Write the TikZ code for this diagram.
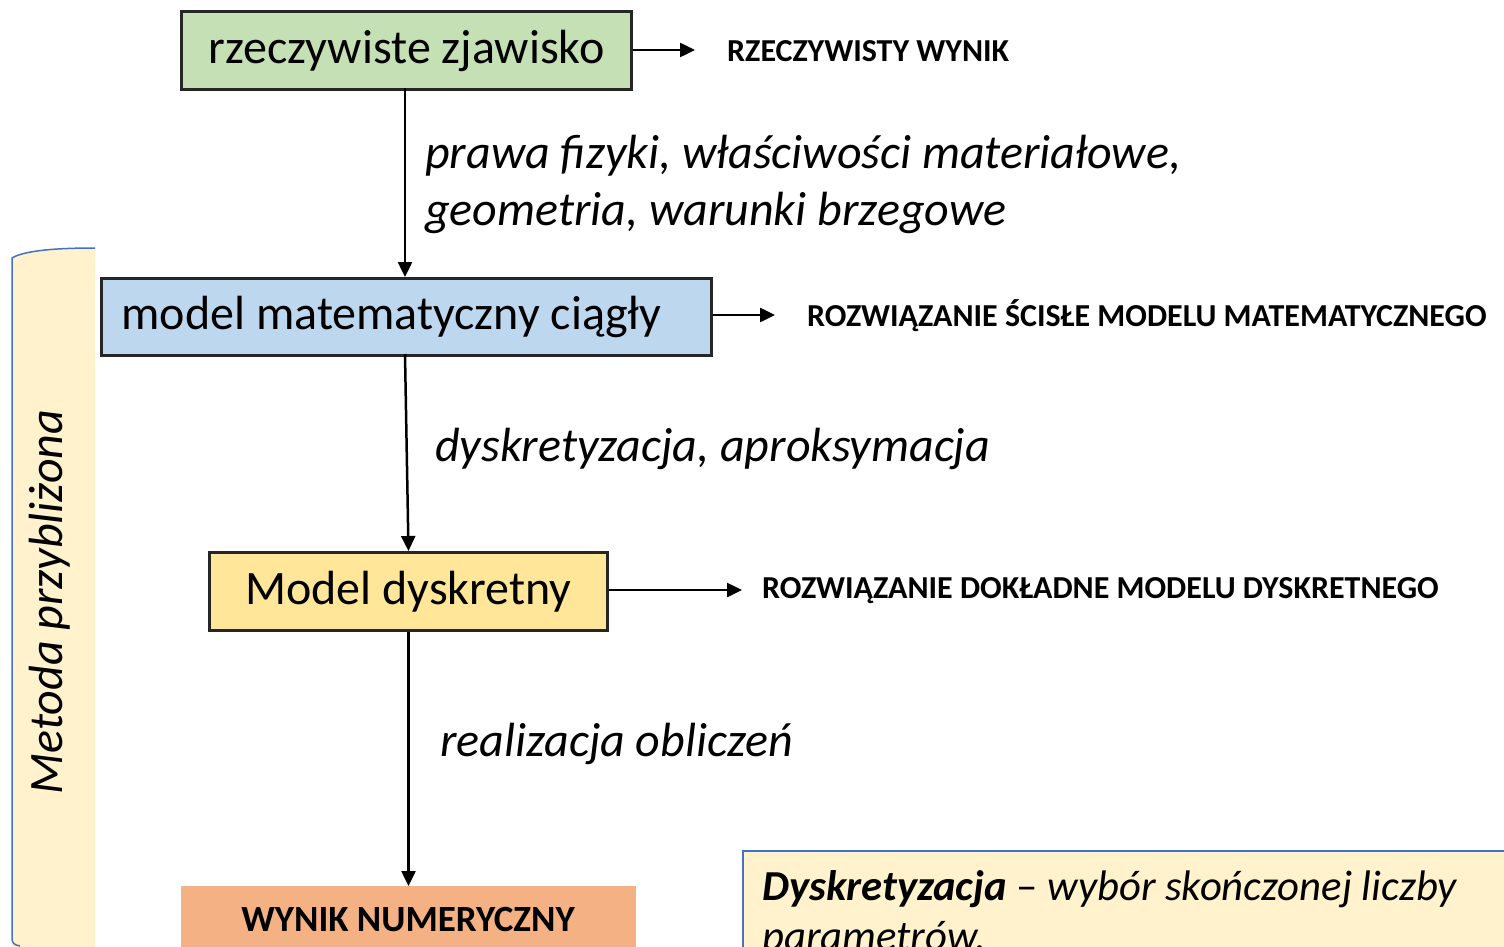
\documentclass[tikz,border=0pt]{standalone}
\usepackage{fontspec}
\setmainfont{Carlito}
\usetikzlibrary{arrows.meta}
\definecolor{gfill}{HTML}{C5E0B4}
\definecolor{bfill}{HTML}{BDD7EE}
\definecolor{yfill}{HTML}{FFE699}
\definecolor{ofill}{HTML}{F4B183}
\definecolor{cream}{HTML}{FFF2CC}
\definecolor{edge}{HTML}{262626}
\definecolor{blueline}{HTML}{4472C4}
\tikzset{
  box/.style={draw=edge, line width=3pt, inner sep=0pt, anchor=north west, font=\fontsize{48}{56}\selectfont},
  arr/.style={line width=2.5pt, -{Triangle[length=15pt,width=14pt]}},
  res/.style={anchor=west, inner sep=0pt, font=\fontsize{32}{38}\selectfont\bfseries},
  lbl/.style={anchor=west, inner sep=0pt, align=flush left, font=\fontsize{48}{57}\selectfont\itshape},
}
\begin{document}
\begin{tikzpicture}[x=1pt,y=-1pt]
\useasboundingbox (0,0) rectangle (1504,947);
\clip (0,0) rectangle (1504,947);
% left bracket
\fill[cream] (12,258) .. controls (25,250) and (60,248) .. (95,248) -- (95,960) -- (12,960) -- cycle;
\draw[blueline, line width=1.5pt] (95,248) .. controls (60,248) and (25,250) .. (12,258) -- (12,938) .. controls (12,943) and (14,945) .. (20,946);
\node[rotate=90, inner sep=0pt, font=\fontsize{48}{56}\selectfont\itshape] (mp) at (50,602) {Metoda przybliżona};
% boxes
\node[box, fill=gfill, minimum width=450pt, minimum height=78pt] (g) at (180,10) {\raisebox{-3pt}{rzeczywiste zjawisko}};
\node[box, fill=bfill, minimum width=610pt, minimum height=77pt, text width=570pt, inner xsep=20pt, align=flush left] (b) at (100,277) {\raisebox{-2pt}{model matematyczny ciągły}};
\node[box, fill=yfill, minimum width=398pt, minimum height=78pt] (y) at (208,551) {\raisebox{-2pt}{Model dyskretny}};
\node[anchor=north west, fill=ofill, minimum width=455pt, minimum height=90pt, inner sep=0pt] (o) at (181,886) {};
\node[inner sep=0pt, font=\fontsize{37}{42}\selectfont\bfseries] (ot) at (408,919) {WYNIK NUMERYCZNY};
% result labels
\node[res] (r1) at (727,51) {RZECZYWISTY WYNIK};
\node[res] (r2) at (807,316) {ROZWIĄZANIE ŚCISŁE MODELU MATEMATYCZNEGO};
\node[res] (r3) at (762,591) {ROZWIĄZANIE DOKŁADNE MODELU DYSKRETNEGO};
\coordinate (e1) at (695,50);
\coordinate (e2) at (775,315);
\coordinate (e3) at (742,590);
\draw[arr] (g.east |- e1) -- (e1);
\draw[arr] (b.east |- e2) -- (e2);
\draw[arr] (y.east |- e3) -- (e3);
% vertical arrows
\draw[arr] (405,88) -- (b.north -| 405,0);
\draw[arr] (405,354) -- (y.north);
\draw[arr] (y.south) -- (o.north -| y.south);
% step labels
\node[lbl] (l1) at (425,184) {prawa fizyki, właściwości materiałowe,\\geometria, warunki brzegowe};
\node[lbl] (l2) at (435,449) {dyskretyzacja, aproksymacja};
\node[lbl] (l3) at (440,744) {realizacja obliczeń};
% bottom right note
\node[anchor=north west, draw=blueline, line width=2pt, fill=cream, minimum width=800pt, minimum height=150pt] (n) at (742,850) {};
\node[anchor=base west, inner sep=0pt, align=flush left, text width=720pt, font=\fontsize{42.7}{50}\selectfont] (nt) at (762,900) {\textbf{\textit{Dyskretyzacja}} – \textit{wybór skończonej liczby parametrów.}};
\end{tikzpicture}
\end{document}
